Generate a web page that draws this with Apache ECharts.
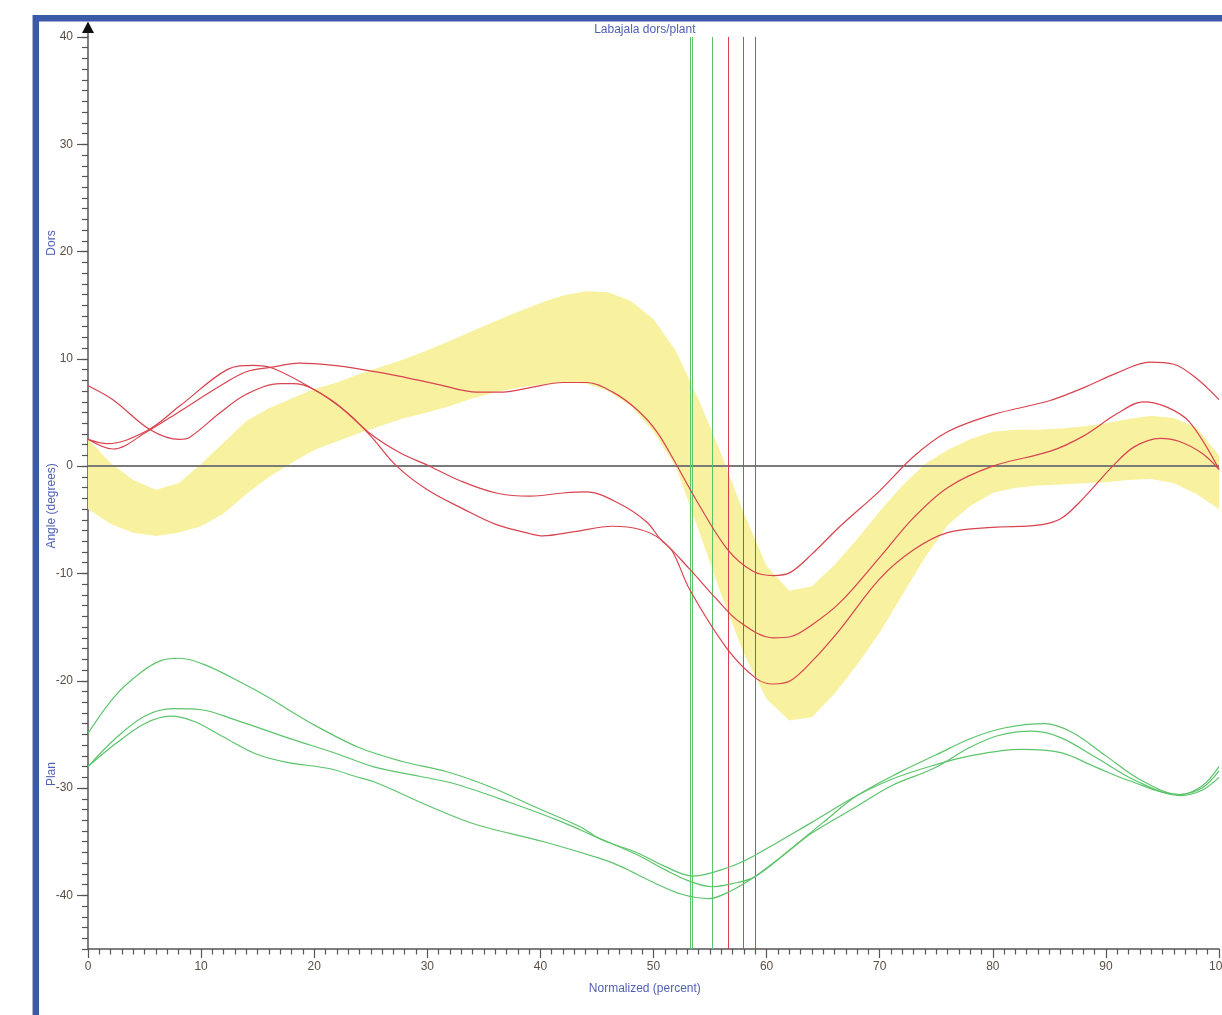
<!DOCTYPE html>
<html><head><meta charset="utf-8">
<script src="https://cdn.jsdelivr.net/npm/echarts/dist/echarts.min.js"></script>
<style>html,body{margin:0;padding:0;background:#fff;overflow:hidden}#c{width:1222px;height:1015px}</style>
</head><body><div id="c"></div>
<script>
// ---------- data ----------
const xMajorTicks = [0, 10, 20, 30, 40, 50, 60, 70, 80, 90, 100];
const yMajorTicks = [-40, -30, -20, -10, 0, 10, 20, 30, 40];

const bandX = [0,2,4,6,8,10,12,14,16,18,20,22,24,26,28,30,32,34,36,38,40,42,44,46,48,50,52,54,56,58,60,62,64,66,68,70,72,74,76,78,80,82,84,86,88,90,92,94,96,98,100];
const bandUpper = [2.5,0.3,-1.3,-2.2,-1.6,0.2,2.2,4.2,5.4,6.3,7.2,7.8,8.6,9.3,10.0,10.8,11.7,12.6,13.5,14.4,15.2,15.9,16.3,16.2,15.4,13.7,10.7,6.2,1.1,-4.4,-9.3,-11.6,-11.2,-9.2,-6.8,-4.2,-1.8,0.2,1.5,2.5,3.2,3.4,3.4,3.5,3.7,4.0,4.4,4.7,4.5,3.6,1.0];
const bandLower = [-4,-5.4,-6.2,-6.5,-6.2,-5.6,-4.4,-2.6,-1,0.3,1.5,2.3,3.1,3.8,4.5,5.0,5.6,6.3,6.9,7.3,7.6,7.8,7.7,7.0,5.6,3.2,-0.1,-6,-12,-17.5,-21.7,-23.7,-23.4,-21.2,-18.5,-15.5,-12,-8.5,-5.5,-3.7,-2.5,-2,-1.8,-1.7,-1.6,-1.5,-1.3,-1.2,-1.6,-2.6,-4.0];

const redTopX = [0,2.2,5.2,8.1,11.7,14,16.1,18.7,21.7,24.3,27.5,31,34.4,36.7,39,42,44.1,46.4,48.5,50.3,52.1,53.8,56.5,58.8,60.6,62.1,64,66.5,70,73,76,80,85,88,91,93.9,96,98,100];
const redTopY = [2.5,1.6,3.2,5.1,7.5,8.8,9.2,9.6,9.4,9.0,8.4,7.6,6.9,6.9,7.3,7.8,7.8,6.9,5.3,3.2,0,-3.2,-7.7,-9.8,-10.2,-9.9,-8.2,-5.6,-2.3,0.9,3.2,4.8,6.1,7.3,8.7,9.7,9.5,8.2,6.2];

const redMidX = [0,2.2,5.5,8.1,9,11.7,14,17,18.1,19.9,22.9,25,27.3,30,33.2,36,39.1,40.2,43,46.4,48.8,50.6,53.2,55.5,57.6,60.6,62.1,64,66.5,70,73,76,80,85.1,88,91,93.3,95.4,97.4,100];
const redMidY = [7.5,6.2,3.4,2.5,2.7,5,6.7,7.7,7.7,7.2,5,2.8,0,-2.2,-4,-5.4,-6.3,-6.5,-6.1,-5.6,-5.9,-6.8,-9.6,-12.3,-14.5,-16,-15.9,-14.8,-12.7,-8.5,-4.8,-2,0,1.4,2.8,4.9,6,5.5,4.1,-0.3];

const redLowX = [0,1.7,5.2,8.1,12.3,14.6,16.4,19.9,22,25,27.5,30.2,33,36.1,39.1,42,44.1,47,49.4,50.6,51.7,53.2,56.5,59.1,60.6,62.1,64,66.5,70,73,76,80,84,86,88,90.6,92.5,94.8,96.5,98.5,100];
const redLowY = [2.5,2.1,3.3,5.6,9,9.4,9.1,7.2,5.8,3,1.3,0,-1.4,-2.5,-2.8,-2.5,-2.4,-3.5,-5.2,-6.8,-8,-11.5,-17,-19.8,-20.3,-20,-18.2,-15.2,-10.5,-7.8,-6.2,-5.7,-5.5,-4.9,-3,0,1.8,2.6,2.3,1.2,-0.3];

const greenAX = [0,2.4,4.7,6.5,8.1,10.3,13.8,15.7,19.8,23.9,27.7,31.8,35.6,39.4,43.5,45.4,48.5,51,53.5,56.6,58.9,64,68,71,74.7,78,82.5,86,89,92,96.5,98.5,100];
const greenAY = [-24.9,-21.4,-19.2,-18.1,-17.9,-18.5,-20.3,-21.4,-24,-26.2,-27.5,-28.5,-29.9,-31.7,-33.6,-34.8,-36,-37.3,-38.2,-37.4,-36.3,-33.2,-30.7,-29.2,-27.9,-27,-26.4,-26.7,-28,-29.3,-30.6,-30,-28.4];

const greenBX = [0,2.4,5,7.5,10,12.9,17.6,22,25.2,29.3,32.4,37.2,42,44.8,48.5,51,53,55.2,57,58.9,62,65,68,72,75,78,81,84.6,87,90,93,96.5,98.5,100];
const greenBY = [-28,-25.4,-23.3,-22.6,-22.7,-23.6,-25.3,-26.8,-28,-28.9,-29.6,-31.3,-33.2,-34.5,-36.2,-37.6,-38.6,-39.2,-38.9,-38.3,-35.8,-33.2,-30.7,-28.4,-26.9,-25.4,-24.4,-24,-24.8,-27,-29.2,-30.6,-29.8,-28];

const greenCX = [0,2.4,5,7.3,9.4,11.9,14.8,17.6,21.4,23.6,25.5,30.2,34.3,40.3,45.4,47.1,50,52.5,54.9,57,58.9,61.8,64,68,71,74.7,78,80.5,83.5,86,89.2,92.6,96.6,98.5,100];
const greenCY = [-28,-25.9,-24,-23.3,-23.8,-25.2,-26.8,-27.6,-28.2,-28.9,-29.5,-31.7,-33.4,-35,-36.6,-37.3,-38.8,-39.9,-40.3,-39.5,-38.3,-36,-34.2,-31.7,-29.8,-28.2,-26.2,-25.1,-24.7,-25.3,-27.2,-29.3,-30.7,-30.2,-29];

const greenEvents = [53.22, 53.42, 55.2];
const redEvents = [56.6, 57.9, 59.0];

const titleText = 'Labajala dors/plant';
const xName = 'Normalized (percent)';
const yNames = ['Dors', 'Angle (degrees)', 'Plan'];

// ---------- styles ----------
const FONT = '"Liberation Sans", Arial, sans-serif';
const BLUE_TXT = '#4f5fb6';
const TICK_TXT = '#5a4e44';
const AX = '#555';
const RED = '#d8434f';
const GREEN = '#5cc46c';
const YELLOW = '#f8f2a0';

const zip = (xs, ys) => xs.map((x, i) => [x, ys[i]]);

const chart = echarts.init(document.getElementById('c'), null, {renderer: 'canvas'});

const G_LEFT = 88, G_TOP = 37, G_W = 1131, G_H = 912;
const unit = G_H / 85;

function curve(name, xs, ys, color) {
  return {
    name, type: 'line', xAxisIndex: 0, yAxisIndex: 0,
    data: zip(xs, ys), smooth: 0.35, showSymbol: false, symbol: 'none', silent: true,
    lineStyle: {color, width: 1.2}, z: 5
  };
}

const option = {
  animation: false,
  backgroundColor: '#fff',
  grid: [
    {left: G_LEFT, top: G_TOP, width: G_W, height: G_H, containLabel: false, outerBoundsMode: 'none'},
    {left: G_LEFT, top: G_TOP, width: G_W, height: unit * 80, containLabel: false, outerBoundsMode: 'none'}
  ],
  xAxis: [
    {
      type: 'value', gridIndex: 0, min: 0, max: 100, interval: 10,
      axisLine: {show: true, onZero: false, lineStyle: {color: AX, width: 1.5}},
      axisTick: {show: true, length: 9, lineStyle: {color: AX, width: 1.2}},
      minorTick: {show: true, splitNumber: 10, length: 5.5, lineStyle: {color: AX, width: 1.2}},
      axisLabel: {show: true, margin: 12, fontSize: 12, fontFamily: FONT, color: TICK_TXT,
        formatter: v => xMajorTicks.includes(v) ? String(v) : ''},
      splitLine: {show: false}, minorSplitLine: {show: false}
    },
    {type: 'value', gridIndex: 1, min: 0, max: 100, show: false}
  ],
  yAxis: [
    {
      type: 'value', gridIndex: 0, min: -45, max: 40, interval: 1,
      axisLine: {show: true, onZero: false, lineStyle: {color: AX, width: 1.5}},
      axisTick: {show: true, length: 6, lineStyle: {color: AX, width: 1.2}},
      axisLabel: {show: false},
      splitLine: {show: false}
    },
    {
      type: 'value', gridIndex: 1, min: -40, max: 40, interval: 10,
      axisLine: {show: false, onZero: false},
      axisTick: {show: true, length: 11, lineStyle: {color: AX, width: 1.2}},
      axisLabel: {show: true, margin: 15, fontSize: 12, fontFamily: FONT, color: TICK_TXT,
        formatter: v => yMajorTicks.includes(v) ? String(v) : ''},
      splitLine: {show: false}
    }
  ],
  series: [
    {
      name: 'band', type: 'custom', xAxisIndex: 0, yAxisIndex: 0, silent: true, z: 1,
      clip: true,
      data: [[bandX[0], bandUpper[0]]],
      renderItem: function (params, api) {
        const up = bandX.map((x, i) => api.coord([x, bandUpper[i]]));
        const lo = bandX.map((x, i) => api.coord([x, bandLower[i]])).reverse();
        return {type: 'polygon', shape: {points: up.concat(lo)}, style: {fill: YELLOW, stroke: null}};
      }
    },
    {
      name: 'zero', type: 'line', xAxisIndex: 0, yAxisIndex: 0, data: [], silent: true, z: 2,
      markLine: {
        silent: true, symbol: ['none', 'none'], label: {show: false}, animation: false,
        lineStyle: {color: '#7a7a7a', width: 2, type: 'solid'},
        data: [{yAxis: 0}]
      }
    },
    curve('redTop', redTopX, redTopY, RED),
    curve('redMid', redMidX, redMidY, RED),
    curve('redLow', redLowX, redLowY, RED),
    curve('greenA', greenAX, greenAY, GREEN),
    curve('greenB', greenBX, greenBY, GREEN),
    curve('greenC', greenCX, greenCY, GREEN),
    {
      name: 'events', type: 'line', xAxisIndex: 0, yAxisIndex: 0, data: [], silent: true, z: 6,
      markLine: {
        silent: true, symbol: ['none', 'none'], label: {show: false}, animation: false,
        data: greenEvents.map(v => ({xAxis: v, lineStyle: {color: GREEN, width: 1, type: 'solid'}}))
          .concat(redEvents.map(v => ({xAxis: v, lineStyle: {color: RED, width: 1, type: 'solid'}})))
      }
    }
  ]
};
chart.setOption(option);

// decorations positioned from the axes
const axX = chart.convertToPixel({xAxisIndex: 0}, 0);
const topY = chart.convertToPixel({yAxisIndex: 0}, 40);
const midX = chart.convertToPixel({xAxisIndex: 0}, 49.5);
const yDors = chart.convertToPixel({yAxisIndex: 0}, 20.8);
const yAngle = chart.convertToPixel({yAxisIndex: 0}, -3.7);
const yPlan = chart.convertToPixel({yAxisIndex: 0}, -28.7);

chart.setOption({
  graphic: [
    {type: 'rect', silent: true, z: 100,
      shape: {x: 35.8, y: 18.3, width: 1400, height: 1200},
      style: {fill: 'none', stroke: '#3a5aa8', lineWidth: 6.5}},
    {type: 'line', silent: true, z: 50,
      shape: {x1: axX, y1: topY, x2: axX, y2: topY - 6},
      style: {stroke: AX, lineWidth: 1.5}},
    {type: 'polygon', silent: true, z: 50,
      shape: {points: [[axX, topY - 15.5], [axX - 6, topY - 4], [axX + 6, topY - 4]]},
      style: {fill: '#111'}},
    {type: 'text', silent: true, z: 50, x: midX - 3, y: 30,
      style: {text: titleText, fill: BLUE_TXT, font: '12px ' + FONT, align: 'center', verticalAlign: 'middle'}},
    {type: 'text', silent: true, z: 50, x: midX - 3, y: 989,
      style: {text: xName, fill: BLUE_TXT, font: '12px ' + FONT, align: 'center', verticalAlign: 'middle'}},
    {type: 'text', silent: true, z: 50, x: 52, y: yDors, rotation: Math.PI / 2,
      style: {text: yNames[0], fill: BLUE_TXT, font: '12px ' + FONT, align: 'center', verticalAlign: 'middle'}},
    {type: 'text', silent: true, z: 50, x: 52, y: yAngle, rotation: Math.PI / 2,
      style: {text: yNames[1], fill: BLUE_TXT, font: '12px ' + FONT, align: 'center', verticalAlign: 'middle'}},
    {type: 'text', silent: true, z: 50, x: 52, y: yPlan, rotation: Math.PI / 2,
      style: {text: yNames[2], fill: BLUE_TXT, font: '12px ' + FONT, align: 'center', verticalAlign: 'middle'}}
  ]
});
</script></body></html>
